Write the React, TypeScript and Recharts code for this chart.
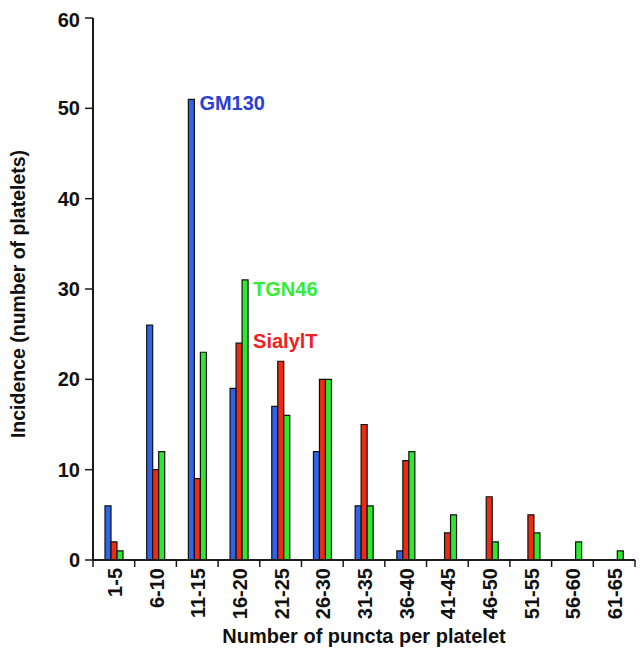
import React from 'react';
import { BarChart, Bar, XAxis, YAxis, Label, LabelList } from 'recharts';

const CATEGORIES = ['1-5', '6-10', '11-15', '16-20', '21-25', '26-30', '31-35', '36-40', '41-45', '46-50', '51-55', '56-60', '61-65'];
const GM130 = [6, 26, 51, 19, 17, 12, 6, 1, 0, 0, 0, 0, 0];
const SIALYLT = [2, 10, 9, 24, 22, 20, 15, 11, 3, 7, 5, 0, 0];
const TGN46 = [1, 12, 23, 31, 16, 20, 6, 12, 5, 2, 3, 2, 1];
const Y_TICKS = [0, 10, 20, 30, 40, 50, 60];

const data = CATEGORIES.map((c, i) => ({ cat: c, GM130: GM130[i], SialylT: SIALYLT[i], TGN46: TGN46[i] }));

const W = 636;
const H = 654;
const M = { top: 10, right: 9, left: 0, bottom: 32 };
const Y_W = 85;
const X_H = 70;
const BAND = (W - M.left - M.right - Y_W) / CATEGORIES.length;
const FONT = '"Liberation Sans", Arial, Helvetica, sans-serif';
const AXIS = '#1a1a1a';

const XTick = (props: any) => {
  const { x, y, payload, index } = props;
  const h = BAND / 2;
  return (
    <g>
      <line x1={x - h} x2={x - h} y1={y} y2={y + 7} stroke={AXIS} strokeWidth={1.5} />
      {index === CATEGORIES.length - 1 && (
        <line x1={x + h} x2={x + h} y1={y} y2={y + 7} stroke={AXIS} strokeWidth={1.5} />
      )}
      <text
        transform={`translate(${x + 1},${y + 8}) rotate(-90)`}
        textAnchor="end"
        dominantBaseline="central"
        fontFamily={FONT}
        fontWeight="bold"
        fontSize={20}
        fill="#111"
      >
        {payload.value}
      </text>
    </g>
  );
};

const seriesLabel = (text: string, at: string, color: string, dx: number, dy: number) => (props: any) => {
  const { x, y, width, index } = props;
  if (CATEGORIES[index] !== at) return null;
  return (
    <text x={x + width + dx} y={y + dy} fill={color} fontFamily={FONT} fontWeight="bold" fontSize={20}>
      {text}
    </text>
  );
};

export default function App() {
  return (
    <BarChart width={W} height={H} data={data} margin={M} barSize={6} barGap={0}>
      <XAxis
        dataKey="cat"
        interval={0}
        height={X_H}
        tickLine={false}
        tickSize={0}
        tickMargin={0}
        axisLine={{ stroke: AXIS, strokeWidth: 2 }}
        tick={<XTick />}
      >
        <Label
          content={(p: any) => {
            const vb = p.viewBox;
            return (
              <text
                x={vb.x + vb.width / 2}
                y={vb.y + vb.height + 13}
                textAnchor="middle"
                fontFamily={FONT}
                fontWeight="bold"
                fontSize={20}
                fill="#111"
              >
                Number of puncta per platelet
              </text>
            );
          }}
        />
      </XAxis>
      <YAxis
        domain={[0, 60]}
        ticks={Y_TICKS}
        width={Y_W}
        tickSize={8}
        tickMargin={5}
        tickLine={{ stroke: AXIS, strokeWidth: 1.5 }}
        axisLine={{ stroke: AXIS, strokeWidth: 2 }}
        tick={{ fontFamily: FONT, fontWeight: 'bold', fontSize: 20, fill: '#111' }}
      >
        <Label
          content={(p: any) => {
            const vb = p.viewBox;
            const cy = vb.y + vb.height / 2 + 5;
            return (
              <text
                transform={`translate(17,${cy}) rotate(-90)`}
                textAnchor="middle"
                fontFamily={FONT}
                fontWeight="bold"
                fontSize={19.5}
                fill="#111"
              >
                Incidence (number of platelets)
              </text>
            );
          }}
        />
      </YAxis>
      <Bar dataKey="GM130" fill="#2e64e8" stroke="#111" strokeWidth={1.2} isAnimationActive={false}>
        <LabelList content={seriesLabel('GM130', '11-15', '#2a3fd4', 5, 11)} />
      </Bar>
      <Bar dataKey="SialylT" fill="#ee2a10" stroke="#111" strokeWidth={1.2} isAnimationActive={false}>
        <LabelList content={seriesLabel('SialylT', '16-20', '#ee2222', 11, 5)} />
      </Bar>
      <Bar dataKey="TGN46" fill="#2ee82e" stroke="#111" strokeWidth={1.2} isAnimationActive={false}>
        <LabelList content={seriesLabel('TGN46', '16-20', '#33ee33', 5, 16)} />
      </Bar>
    </BarChart>
  );
}
